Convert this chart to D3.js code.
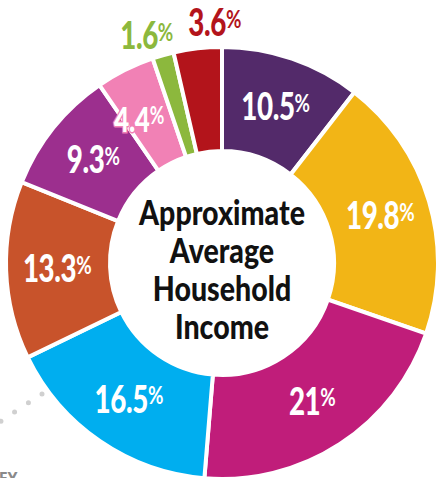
<!DOCTYPE html>
<html>
<head>
<meta charset="utf-8">
<script src="https://cdn.jsdelivr.net/npm/d3@7"></script>
<style>
    html, body { margin: 0; padding: 0; background: #fff; overflow: hidden; }
    svg { display: block; }
</style>
</head>
<body>
<div id="chart"></div>
<script>
// Data
const categories = ["A", "B", "C", "D", "E", "F", "G", "H", "I"]
const shares = [10.5, 19.8, 21, 16.5, 13.3, 9.3, 4.4, 1.6, 3.6]
const labels = ["10.5", "19.8", "21", "16.5", "13.3", "9.3", "4.4", "1.6", "3.6"]
const colors = ["#532a6a", "#f2b516", "#c01d7a", "#00aeef", "#c8532b", "#9c2f8e", "#f181b5", "#8cb83d", "#b3141b"]
const centerTitle = ["Approximate", "Average", "Household", "Income"]

// Constants
const width = 439
const height = 478
const cx = 222
const cy = 263
const outerRadius = 216
const innerRadius = 112
const labelRadius = 165
const fontStack = "Lato, 'Open Sans', sans-serif"
const squeeze = 0.75   // condensed look

const svg = d3.select("#chart")
    .append("svg")
    .attr("width", width)
    .attr("height", height)

// decorative dotted guide, bottom left
svg.append("path")
    .attr("d", "M42,394 Q20,408 -6,426")
    .style("fill", "none")
    .style("stroke", "#d0d0d0")
    .style("stroke-width", 5)
    .style("stroke-linecap", "round")
    .style("stroke-dasharray", "0 16.5")

svg.append("text")
    .attr("x", -12)
    .attr("y", 484)
    .style("font-family", "'Open Sans', sans-serif")
    .style("font-weight", 700)
    .style("font-size", "16px")
    .style("fill", "#8a8a8a")
    .text("KEY")

const elementGroup = svg.append("g")
    .attr("transform", `translate(${cx}, ${cy})`)

const pie = d3.pie()
    .sort(null)
    .value(d => d.value)

const arc = d3.arc()
    .innerRadius(innerRadius)
    .outerRadius(outerRadius)

const labelArc = d3.arc()
    .innerRadius(labelRadius)
    .outerRadius(labelRadius)

const data = categories.map((c, i) => ({ key: c, value: shares[i], label: labels[i], color: colors[i] }))
const arcs = pie(data)

elementGroup.selectAll(".slice")
    .data(arcs)
    .enter()
    .append("path")
    .attr("class", "slice")
    .attr("d", arc)
    .style("fill", d => d.data.color)
    .style("stroke", "#fff")
    .style("stroke-width", 4)
    .style("stroke-linejoin", "miter")

// label nudges; H and I sit outside the ring
const outside = { H: { r: 236, dx: -11 }, I: { r: 242, dx: 20 } }
const nudge = { G: [-9, 4] }

const labelGroups = elementGroup.selectAll(".label")
    .data(arcs)
    .enter()
    .append("text")
    .attr("class", "label")
    .attr("transform", d => {
        const o = outside[d.data.key]
        let x, y
        if (o) {
            const a = (d.startAngle + d.endAngle) / 2
            x = o.r * Math.sin(a) + o.dx
            y = -o.r * Math.cos(a)
        } else {
            [x, y] = labelArc.centroid(d)
            const n = nudge[d.data.key] || [0, 0]
            x += n[0]
            y += n[1]
        }
        return `translate(${x}, ${y}) scale(${squeeze}, 1)`
    })
    .attr("dy", "0.36em")
    .style("text-anchor", "middle")
    .style("font-family", fontStack)
    .style("font-weight", 900)
    .style("font-size", d => d.data.key === "G" ? "35px" : "37px")
    .style("fill", d => outside[d.data.key] ? d.data.color : "#fff")
    .style("stroke", d => d.data.key === "G" ? d.data.color : "none")
    .style("stroke-width", 3)
    .style("paint-order", "stroke")
    .style("letter-spacing", "-0.5px")

labelGroups.append("tspan")
    .text(d => d.data.label)

labelGroups.append("tspan")
    .attr("dy", "-0.33em")
    .style("font-size", "0.68em")
    .style("font-weight", 700)
    .text("%")

// center title
elementGroup.append("text")
    .attr("transform", `scale(0.84, 1)`)
    .style("text-anchor", "middle")
    .style("font-family", fontStack)
    .style("font-weight", 900)
    .style("font-size", "34px")
    .style("fill", "#111")
    .selectAll("tspan")
    .data(centerTitle)
    .enter()
    .append("tspan")
    .attr("x", 0)
    .attr("y", (d, i) => -38 + i * 38)
    .text(d => d)
</script>
</body>
</html>
